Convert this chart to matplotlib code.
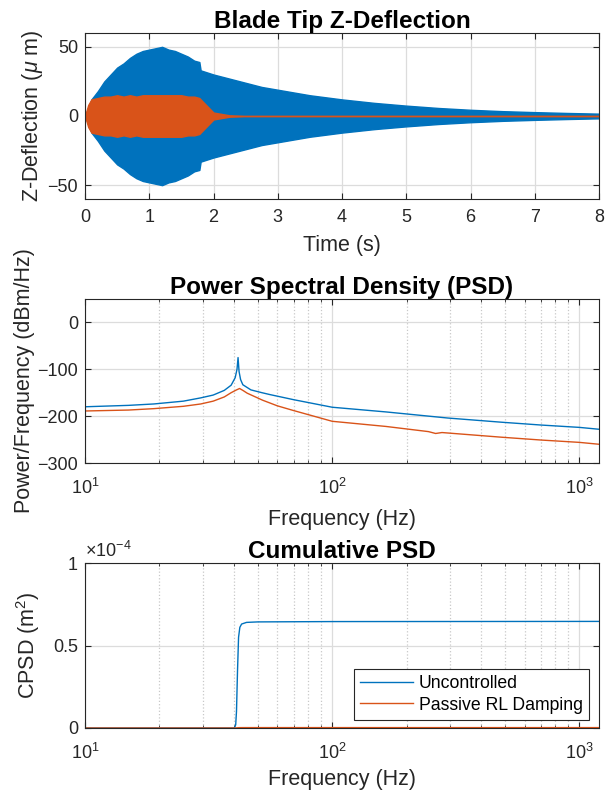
import numpy as np
import matplotlib
matplotlib.use("Agg")
import matplotlib.pyplot as plt
from matplotlib.ticker import FuncFormatter

plt.rcParams['font.family'] = ['Liberation Sans', 'DejaVu Sans']
plt.rcParams['mathtext.fontset'] = 'custom'
plt.rcParams['mathtext.rm'] = 'Liberation Sans'
plt.rcParams['mathtext.it'] = 'Liberation Sans:italic'

c_blue = '#0072BD'
c_orange = '#D95319'
c_txt = '#262626'

# time-domain envelopes (um)
t_env = [0.0, 0.05, 0.1, 0.2, 0.3, 0.4, 0.5, 0.6, 0.7, 0.8, 0.9, 1.0, 1.1, 1.2,
         1.3, 1.4, 1.5, 1.6, 1.7, 1.78, 1.8, 2.0, 2.25, 2.5, 2.75, 3.0, 3.5,
         4.0, 4.5, 5.0, 5.5, 6.0, 6.5, 7.0, 7.5, 8.0]
blue_env = [0, 6, 12, 18, 25, 30, 35, 38, 42, 45, 47, 48, 49, 50,
            48, 47, 45, 43, 40, 39, 33, 30, 27, 24, 21, 19, 15,
            12, 9.5, 7.5, 5.8, 4.5, 3.5, 2.8, 2.2, 1.7]
orange_env = [0, 8, 12, 13, 14, 14, 15, 14, 15, 14, 15, 15, 15, 15,
              15, 15, 15, 14, 14, 13, 12, 2.5, 0.5, 0.1, 0, 0, 0,
              0, 0, 0, 0, 0, 0, 0, 0, 0]

# PSD (dBm/Hz)
f_blue = [10, 15, 19, 25, 29.4, 33, 36.6, 39, 40.5, 41.2, 41.6, 42.0, 42.6,
          43.5, 46.9, 52, 56, 70, 100, 165, 293, 485, 700, 1000, 1200]
psd_blue = [-180, -177, -174, -168, -161, -155, -145, -134, -118, -100, -75,
            -105, -122, -133, -144, -150, -154, -165, -181, -191, -204, -213,
            -219, -224, -228]
f_orange = [10, 15, 19, 25, 29.4, 33, 36.6, 39, 41, 42.2, 43.5, 45.3, 52.3,
            60, 69.7, 100, 165, 245, 262, 278, 485, 700, 1000, 1200]
psd_orange = [-189, -187, -184, -179, -174, -168, -159, -150, -144, -141,
              -145, -151, -166, -178, -188, -211, -222, -233, -237, -235,
              -245, -251, -256, -260]

# cumulative PSD (m^2)
f_cum = [10, 20, 30, 38, 39.8, 40.3, 40.7, 41.0, 41.4, 41.8, 42.3, 43, 45,
         50, 100, 1200]
cum_blue = [0, 0, 0, 0, 0.00002e-4, 0.002e-4, 0.02e-4, 0.1e-4, 0.35e-4,
            0.55e-4, 0.61e-4, 0.63e-4, 0.64e-4, 0.643e-4, 0.645e-4, 0.646e-4]
cum_orange = [0, 0, 0, 0, 0, 0.0002e-4, 0.0005e-4, 0.001e-4, 0.0015e-4,
              0.002e-4, 0.0022e-4, 0.0023e-4, 0.0024e-4, 0.0024e-4,
              0.0024e-4, 0.0024e-4]

FS_TICK = 13
FS_LAB = 15.5
FS_TITLE = 17.5

fig = plt.figure(figsize=(6.05, 7.98), dpi=100)
W, H = 605.0, 798.0
ax1 = fig.add_axes([85 / W, 1 - 199 / H, 514 / W, 166 / H])
ax2 = fig.add_axes([85 / W, 1 - 463 / H, 514 / W, 164 / H])
ax3 = fig.add_axes([85 / W, 1 - 728 / H, 514 / W, 165 / H])


def style(ax, xpad=5):
    ax.tick_params(direction='in', which='both', top=True, right=True,
                   labelsize=FS_TICK, colors=c_txt, length=4, pad=5)
    ax.tick_params(axis='x', pad=xpad)
    ax.tick_params(which='minor', length=2)
    for s in ax.spines.values():
        s.set_color(c_txt)
        s.set_linewidth(0.8)
    ax.grid(True, which='major', color='#dcdcdc', lw=0.9)
    ax.set_axisbelow(True)


# blade tip deflection
te = np.array(t_env)
be = np.array(blue_env)
oe = np.array(orange_env)
ax1.fill_between(te, -be, be, color=c_blue, lw=1, edgecolor=c_blue)
ax1.fill_between(te, -oe, oe, color=c_orange, lw=1, edgecolor=c_orange)
ax1.set_xlim(0, 8)
ax1.set_ylim(-60, 60)
ax1.set_yticks([-50, 0, 50])
ax1.set_xticks(range(0, 9))
style(ax1, xpad=7)
ax1.set_title('Blade Tip Z-Deflection', fontsize=FS_TITLE, fontweight='bold', pad=3)
ax1.set_xlabel('Time (s)', fontsize=FS_LAB, color=c_txt, labelpad=7)
ax1.set_ylabel(r'Z-Deflection ($\mu$ m)', fontsize=FS_LAB, color=c_txt, labelpad=2)

# PSD
ax2.semilogx(f_blue, psd_blue, color=c_blue, lw=1)
ax2.semilogx(f_orange, psd_orange, color=c_orange, lw=1)
ax2.set_xlim(10, 1200)
ax2.set_ylim(-300, 50)
ax2.set_yticks([-300, -200, -100, 0])
style(ax2, xpad=11)
ax2.grid(True, which='minor', color='#c8c8c8', ls=':', lw=0.9)
ax2.set_title('Power Spectral Density (PSD)', fontsize=FS_TITLE, fontweight='bold', pad=3)
ax2.set_xlabel('Frequency (Hz)', fontsize=FS_LAB, color=c_txt, labelpad=8)
ax2.set_ylabel('Power/Frequency (dBm/Hz)', fontsize=FS_LAB, color=c_txt, labelpad=2)

# cumulative PSD
ax3.semilogx(f_cum, cum_blue, color=c_blue, lw=1, label='Uncontrolled')
ax3.semilogx(f_cum, cum_orange, color=c_orange, lw=1, label='Passive RL Damping')
ax3.set_xlim(10, 1200)
ax3.set_ylim(0, 1e-4)
ax3.set_yticks([0, 0.5e-4, 1e-4])
ax3.yaxis.set_major_formatter(FuncFormatter(lambda v, p: '%g' % round(v / 1e-4, 3)))
style(ax3, xpad=11)
ax3.text(0.0, 1.015, r'$\times$10$^{-4}$', transform=ax3.transAxes,
         fontsize=FS_TICK, color=c_txt, ha='left', va='bottom')
ax3.grid(True, which='minor', color='#c8c8c8', ls=':', lw=0.9)
ax3.set_title('Cumulative PSD', fontsize=FS_TITLE, fontweight='bold', pad=3)
ax3.set_xlabel('Frequency (Hz)', fontsize=FS_LAB, color=c_txt, labelpad=4)
ax3.set_ylabel(r'CPSD (m$^2$)', fontsize=FS_LAB, color=c_txt, labelpad=8)
leg = ax3.legend(loc='lower right', bbox_to_anchor=(0.98, 0.05), fontsize=12.7,
                 fancybox=False, framealpha=1, edgecolor=c_txt,
                 borderaxespad=0, handlelength=3.0, handletextpad=0.3,
                 borderpad=0.35, labelspacing=0.25)
leg.get_frame().set_linewidth(0.8)

fig.savefig('out.png', dpi=100)
